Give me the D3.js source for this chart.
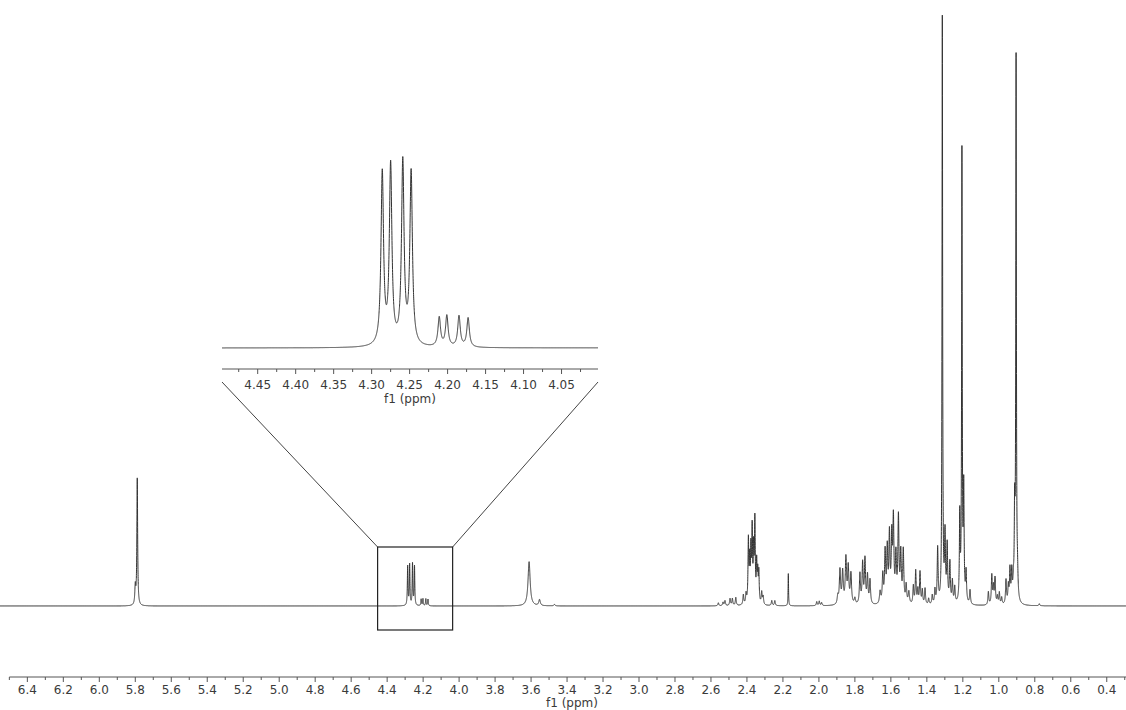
<!DOCTYPE html>
<html>
<head>
<meta charset="utf-8">
<script src="https://cdn.jsdelivr.net/npm/d3@7"></script>
<style>
  body { margin: 0; background: #fff; }
  #chart text { font-family: "DejaVu Sans", Verdana, sans-serif; fill: #3a3a3a; }
</style>
</head>
<body>
<div id="chart"></div>
<script>
// peak list: position (ppm), height (px above baseline in main plot), half width (ppm)
const peakPpm = [
  5.800, 5.789,
  4.286, 4.275, 4.259, 4.248, 4.211, 4.201, 4.185, 4.173,
  3.611, 3.553, 3.470,
  2.559, 2.533, 2.522, 2.494, 2.481, 2.462, 2.420, 2.405,
  2.392, 2.385, 2.378, 2.371, 2.363, 2.356, 2.346, 2.340, 2.334, 2.318, 2.310, 2.262, 2.245,
  2.170,
  2.012, 1.998, 1.985,
  1.895, 1.883, 1.868, 1.850, 1.837, 1.822, 1.800,
  1.772, 1.757, 1.744, 1.730, 1.716, 1.660,
  1.645, 1.632, 1.620, 1.608, 1.595, 1.586, 1.572, 1.558, 1.545, 1.531, 1.515, 1.500,
  1.475, 1.462, 1.450, 1.438, 1.425, 1.410, 1.390, 1.370,
  1.355, 1.340, 1.314, 1.299, 1.287, 1.272, 1.258, 1.245,
  1.217, 1.205, 1.195, 1.182, 1.160,
  1.058, 1.039, 1.030, 1.021, 1.008, 0.997, 0.984, 0.960, 0.947, 0.938, 0.928, 0.919,
  0.912, 0.904, 0.896,
  0.775
];
const peakHeight = [
  18, 126,
  39, 40.5, 41.3, 39, 6.6, 7.0, 7.0, 6.6,
  44, 6, 1.5,
  3, 3.5, 5, 7, 7, 8, 10, 10,
  62, 40, 50, 70, 50, 80, 38, 28, 30, 12, 8, 5, 5,
  32,
  4, 4.5, 3,
  8, 34, 32, 45, 36, 30, 6,
  30, 40, 44, 28, 24, 12,
  28, 50, 52, 66, 62, 80, 45, 84, 48, 52, 18, 12,
  18, 33, 14, 32, 14, 16, 6, 9,
  14, 55, 582, 66, 56, 40, 22, 16,
  85, 446, 110, 30, 14,
  13, 29, 17, 26, 8, 12, 7, 24, 17, 33, 30, 16,
  85, 538, 20,
  2
];
const peakWidth = [
  0.003, 0.0025,
  0.002, 0.002, 0.002, 0.002, 0.002, 0.002, 0.002, 0.002,
  0.007, 0.005, 0.004,
  0.003, 0.003, 0.003, 0.003, 0.003, 0.003, 0.003, 0.003,
  0.0025, 0.0025, 0.0025, 0.0025, 0.0025, 0.0025, 0.0025, 0.0025, 0.0025, 0.003, 0.003, 0.003, 0.003,
  0.0015,
  0.003, 0.003, 0.003,
  0.004, 0.004, 0.004, 0.004, 0.004, 0.004, 0.004,
  0.0035, 0.0035, 0.0035, 0.0035, 0.0035, 0.004,
  0.0035, 0.0035, 0.0035, 0.0035, 0.0035, 0.0035, 0.0035, 0.0035, 0.0035, 0.0035, 0.0035, 0.004,
  0.003, 0.003, 0.003, 0.003, 0.003, 0.003, 0.003, 0.003,
  0.003, 0.003, 0.002, 0.003, 0.003, 0.003, 0.003, 0.003,
  0.0025, 0.002, 0.0025, 0.003, 0.003,
  0.003, 0.003, 0.003, 0.003, 0.003, 0.003, 0.003, 0.003, 0.003, 0.003, 0.003, 0.003,
  0.0025, 0.002, 0.003,
  0.003
];

const mainTickLabels = [6.4, 6.2, 6.0, 5.8, 5.6, 5.4, 5.2, 5.0, 4.8, 4.6, 4.4, 4.2, 4.0, 3.8, 3.6,
  3.4, 3.2, 3.0, 2.8, 2.6, 2.4, 2.2, 2.0, 1.8, 1.6, 1.4, 1.2, 1.0, 0.8, 0.6, 0.4];
const insetTickLabels = [4.45, 4.40, 4.35, 4.30, 4.25, 4.20, 4.15, 4.10, 4.05];

const mainDomain = [6.552, 0.293];
const insetDomain = [4.497, 4.002];
const zoomBox = [4.453, 4.036];
const axisTitle = "f1 (ppm)";

const width = 1126, height = 710;

function intensity(ppm) {
  let s = 0;
  for (let i = 0; i < peakPpm.length; i++) {
    const d = ppm - peakPpm[i];
    const w2 = peakWidth[i] * peakWidth[i];
    s += peakHeight[i] * w2 / (d * d + w2);
  }
  return s;
}

function sampleSpectrum(from, to, step) {
  const pts = d3.range(from, to, -step)
    .concat(peakPpm.filter(p => p <= from && p >= to));
  pts.sort((a, b) => b - a);
  return pts.map(p => ({ ppm: p, y: intensity(p) }));
}

const svg = d3.select("#chart").append("svg")
  .attr("width", width)
  .attr("height", height);

// ---- main spectrum
const x = d3.scaleLinear().domain(mainDomain).range([0, width]);
const y = d3.scaleLinear().domain([0, 590]).range([606, 12]);

const mainData = sampleSpectrum(mainDomain[0], mainDomain[1], 0.0002);

svg.append("path")
  .datum(mainData)
  .attr("fill", "none")
  .attr("stroke", "#333")
  .attr("stroke-width", 1)
  .attr("d", d3.line().x(d => x(d.ppm)).y(d => y(d.y)));

const axisY = 677;
const axisG = svg.append("g").attr("transform", `translate(0,${axisY})`);

axisG.append("line")
  .attr("x1", x(6.5)).attr("x2", width)
  .attr("y1", 0).attr("y2", 0)
  .attr("stroke", "#555");

axisG.selectAll(".minor")
  .data(mainTickLabels.map(v => +(v + 0.1).toFixed(1)).concat([0.3]))
  .join("line")
  .attr("x1", d => x(d)).attr("x2", d => x(d))
  .attr("y1", 0).attr("y2", 3)
  .attr("stroke", "#555");

axisG.selectAll(".major")
  .data(mainTickLabels)
  .join("line")
  .attr("x1", d => x(d)).attr("x2", d => x(d))
  .attr("y1", 0).attr("y2", 5)
  .attr("stroke", "#555");

axisG.selectAll("text.tick")
  .data(mainTickLabels)
  .join("text")
  .attr("class", "tick")
  .attr("x", d => x(d))
  .attr("y", 17)
  .attr("text-anchor", "middle")
  .style("font-size", "12px")
  .text(d => d.toFixed(1));

svg.append("text")
  .attr("x", 572)
  .attr("y", 707)
  .attr("text-anchor", "middle")
  .style("font-size", "12px")
  .text(axisTitle);

// ---- zoom box and connectors
const boxTop = 547, boxBottom = 630;
svg.append("rect")
  .attr("x", x(zoomBox[0]))
  .attr("y", boxTop)
  .attr("width", x(zoomBox[1]) - x(zoomBox[0]))
  .attr("height", boxBottom - boxTop)
  .attr("fill", "none")
  .attr("stroke", "#222")
  .attr("stroke-width", 1.2);

// ---- inset
const xi = d3.scaleLinear().domain(insetDomain).range([222, 598]);
const yi = d3.scaleLinear().domain([0, 44]).range([348, 154]);
const insetAxisY = 369;

const insetData = sampleSpectrum(insetDomain[0], insetDomain[1], 0.0001);

svg.append("path")
  .datum(insetData)
  .attr("fill", "none")
  .attr("stroke", "#333")
  .attr("stroke-width", 1)
  .attr("d", d3.line().x(d => xi(d.ppm)).y(d => yi(d.y)));

svg.append("line")
  .attr("x1", 222).attr("y1", 382)
  .attr("x2", x(zoomBox[0])).attr("y2", boxTop)
  .attr("stroke", "#444");
svg.append("line")
  .attr("x1", 598).attr("y1", 382)
  .attr("x2", x(zoomBox[1])).attr("y2", boxTop)
  .attr("stroke", "#444");

const insetAxis = svg.append("g").attr("transform", `translate(0,${insetAxisY})`);
insetAxis.append("line")
  .attr("x1", 222).attr("x2", 598)
  .attr("stroke", "#555");

const insetMinor = d3.range(4.475, 4.0, -0.05).map(v => +v.toFixed(3));
insetAxis.selectAll(".minor")
  .data(insetMinor)
  .join("line")
  .attr("x1", d => xi(d)).attr("x2", d => xi(d))
  .attr("y1", 0).attr("y2", 3)
  .attr("stroke", "#555");

insetAxis.selectAll(".major")
  .data(insetTickLabels)
  .join("line")
  .attr("x1", d => xi(d)).attr("x2", d => xi(d))
  .attr("y1", 0).attr("y2", 5)
  .attr("stroke", "#555");

insetAxis.selectAll("text.tick")
  .data(insetTickLabels)
  .join("text")
  .attr("class", "tick")
  .attr("x", d => xi(d))
  .attr("y", 20)
  .attr("text-anchor", "middle")
  .style("font-size", "12px")
  .text(d => d.toFixed(2));

svg.append("text")
  .attr("x", 410)
  .attr("y", 403)
  .attr("text-anchor", "middle")
  .style("font-size", "12px")
  .text(axisTitle);
</script>
</body>
</html>
